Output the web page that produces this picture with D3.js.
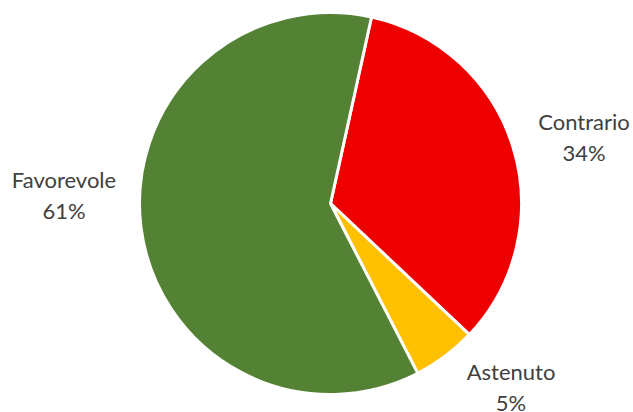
<!DOCTYPE html>
<html>
<head>
<meta charset="utf-8">
<script src="https://cdn.jsdelivr.net/npm/d3@7"></script>
<style>
  body { margin: 0; background: #fff; }
  svg { display: block; }
</style>
</head>
<body>
<div id="chart"></div>
<script>
// setting up constants
const FRAME_WIDTH = 633;
const FRAME_HEIGHT = 412;
const CENTER = {x: 330.5, y: 203.5};
const RADIUS = 191;
const START_ANGLE = 12.4; // degrees, first slice angle

// data
const categories = ["Contrario", "Astenuto", "Favorevole"];
const values = [33.6, 5.4, 61.0];
const colors = ["#EE0000", "#FFC000", "#548235"];

// label anchors (x centre, first baseline)
const labelPos = [
  {x: 584, y: 130},
  {x: 511, y: 380},
  {x: 64, y: 188}
];

const data = categories.map((c, i) => ({name: c, value: values[i], color: colors[i], pos: labelPos[i]}));

const FRAME = d3.select("#chart")
  .append("svg")
  .attr("width", FRAME_WIDTH)
  .attr("height", FRAME_HEIGHT);

const start = START_ANGLE * Math.PI / 180;
const pie = d3.pie()
  .value(d => d.value)
  .sort(null)
  .startAngle(start)
  .endAngle(start + 2 * Math.PI);

const arc = d3.arc().innerRadius(0).outerRadius(RADIUS);

const g = FRAME.append("g")
  .attr("transform", "translate(" + CENTER.x + "," + CENTER.y + ")");

g.selectAll("path")
  .data(pie(data))
  .enter()
  .append("path")
  .attr("d", arc)
  .attr("fill", d => d.data.color)
  .attr("stroke", "#fff")
  .attr("stroke-width", 3)
  .attr("stroke-linejoin", "round");

// labels: name + percentage
const total = d3.sum(values);
const labels = FRAME.selectAll("text.label")
  .data(data)
  .enter()
  .append("text")
  .attr("class", "label")
  .attr("text-anchor", "middle")
  .attr("font-family", "Lato, 'Open Sans', sans-serif")
  .attr("font-size", 22)
  .attr("fill", "#404040");

labels.append("tspan")
  .attr("x", d => d.pos.x)
  .attr("y", d => d.pos.y)
  .text(d => d.name);

labels.append("tspan")
  .attr("x", d => d.pos.x)
  .attr("y", d => d.pos.y + 31)
  .text(d => Math.round(d.value / total * 100) + "%");
</script>
</body>
</html>
